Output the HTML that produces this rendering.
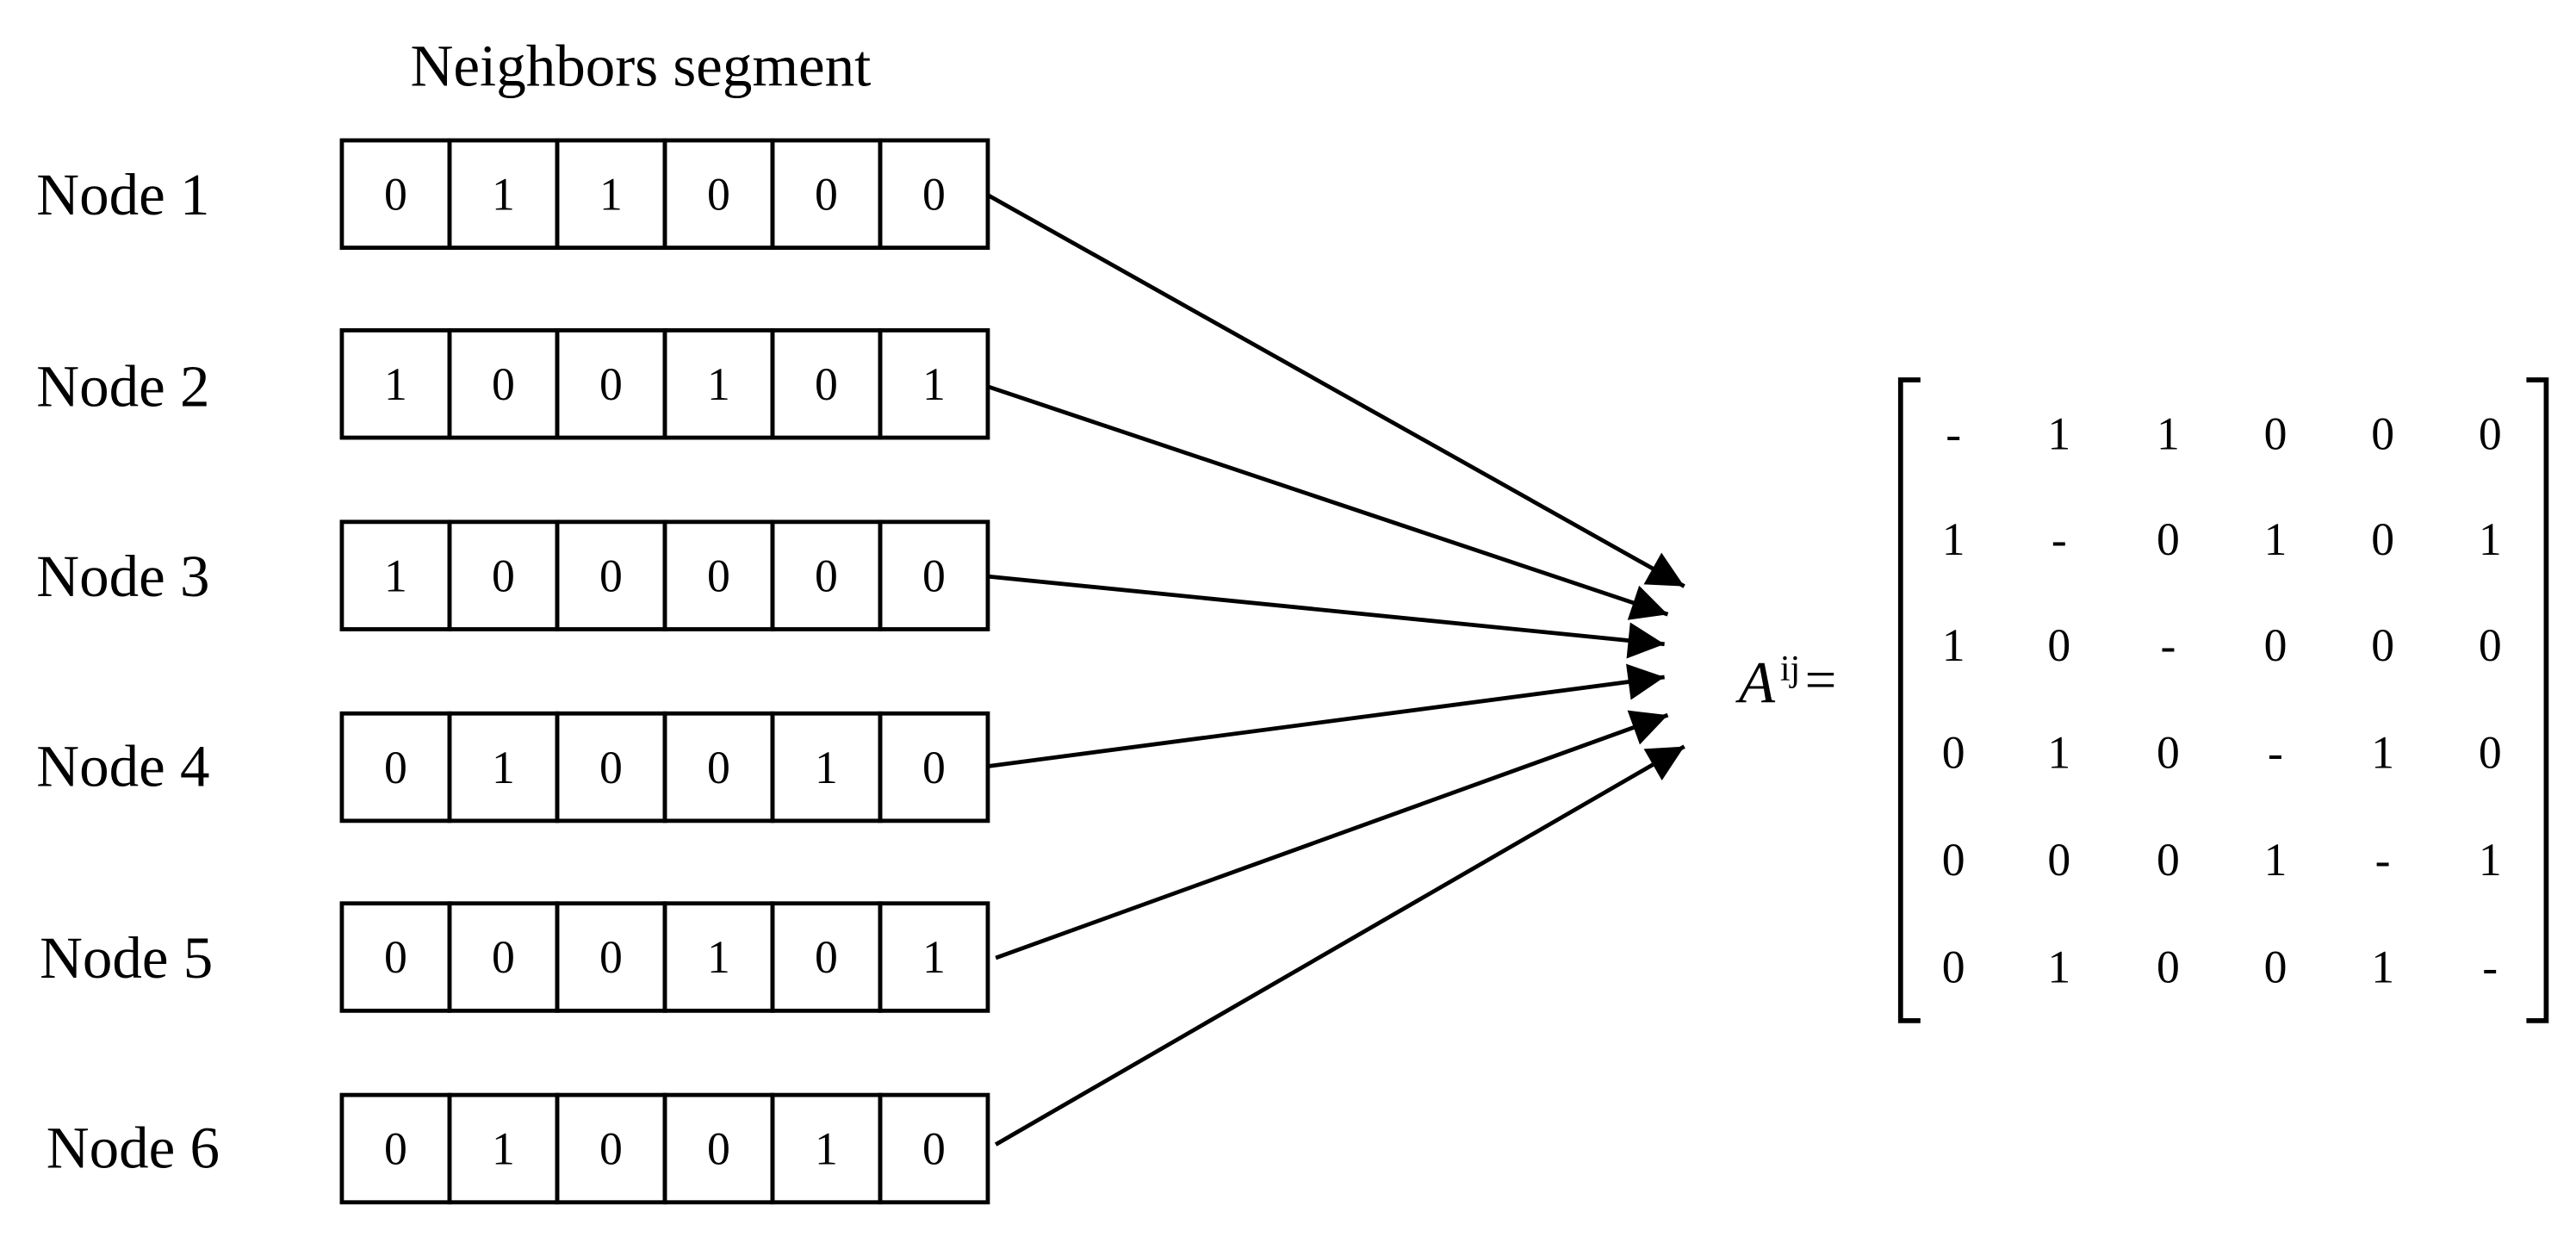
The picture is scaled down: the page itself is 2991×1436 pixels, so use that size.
<!DOCTYPE html>
<html><head><meta charset="utf-8"><style>
html,body{margin:0;padding:0;background:#fff;}
svg{display:block;}
text{font-family:"Liberation Serif",serif;fill:#000;}
</style></head><body>
<svg width="2991" height="1436" viewBox="0 0 1560 749" xmlns="http://www.w3.org/2000/svg">
<defs>
<marker id="ah" viewBox="0 0 10 10" refX="10" refY="5" markerWidth="8" markerHeight="8" markerUnits="userSpaceOnUse" orient="auto">
<path d="M0,0 L10,5 L0,10 z" fill="#000"/>
</marker>
<marker id="a" viewBox="0 0 10 10" refX="10" refY="5" markerWidth="24" markerHeight="22" markerUnits="userSpaceOnUse" orient="auto">
<path d="M0,0 L10,5 L0,10 z" fill="#000"/>
</marker>
</defs>
<text x="388" y="52" font-size="36" text-anchor="middle">Neighbors segment</text>
<g font-size="36">
<text x="22" y="130">Node 1</text>
<text x="22" y="246">Node 2</text>
<text x="22" y="361">Node 3</text>
<text x="22" y="476">Node 4</text>
<text x="24" y="592">Node 5</text>
<text x="28" y="707">Node 6</text>
</g>
<g id="rows" stroke="#000" stroke-width="2.5" fill="none"></g>
<g id="cells" font-size="28" text-anchor="middle"></g>
<g stroke="#000" stroke-width="2.5" fill="none">
<line x1="598" y1="118" x2="1020" y2="355" marker-end="url(#a)"/>
<line x1="598" y1="234" x2="1010" y2="372" marker-end="url(#a)"/>
<line x1="598" y1="349" x2="1008" y2="390" marker-end="url(#a)"/>
<line x1="598" y1="464" x2="1008" y2="410" marker-end="url(#a)"/>
<line x1="603" y1="580" x2="1010" y2="433" marker-end="url(#a)"/>
<line x1="603" y1="693" x2="1020" y2="452" marker-end="url(#a)"/>
</g>
<text x="1053" y="425" font-size="36" font-style="italic">A</text>
<text x="1078" y="412" font-size="22">ij</text>
<text x="1093" y="423" font-size="34">=</text>
<g stroke="#000" stroke-width="3" fill="none">
<polyline points="1163,230 1151,230 1151,618 1163,618"/>
<polyline points="1530,230 1542,230 1542,618 1530,618"/>
</g>
<g id="mat" font-size="28" text-anchor="middle"></g>
</svg>
<script>
var ns="http://www.w3.org/2000/svg";
var data=[[0,1,1,0,0,0],[1,0,0,1,0,1],[1,0,0,0,0,0],[0,1,0,0,1,0],[0,0,0,1,0,1],[0,1,0,0,1,0]];
var tops=[85,200,316,432,547,663];
var rows=document.getElementById("rows"),cells=document.getElementById("cells");
for(var r=0;r<6;r++){
 for(var c=0;c<6;c++){
  var x=207+c*65.2;
  var rc=document.createElementNS(ns,"rect");
  rc.setAttribute("x",x);rc.setAttribute("y",tops[r]);rc.setAttribute("width",65.2);rc.setAttribute("height",65);
  rows.appendChild(rc);
  var t=document.createElementNS(ns,"text");
  t.setAttribute("x",x+32.6);t.setAttribute("y",tops[r]+42);t.textContent=data[r][c];
  cells.appendChild(t);
 }
}
var mat=document.getElementById("mat");
var cx=[1183,1247,1313,1378,1443,1508],ry=[262,326,390,455,520,585];
for(var r=0;r<6;r++)for(var c=0;c<6;c++){
 var t=document.createElementNS(ns,"text");
 t.setAttribute("x",cx[c]);t.setAttribute("y",ry[r]+10);t.textContent=(r==c)?"-":data[r][c];
 mat.appendChild(t);
}
</script>
</body></html>
